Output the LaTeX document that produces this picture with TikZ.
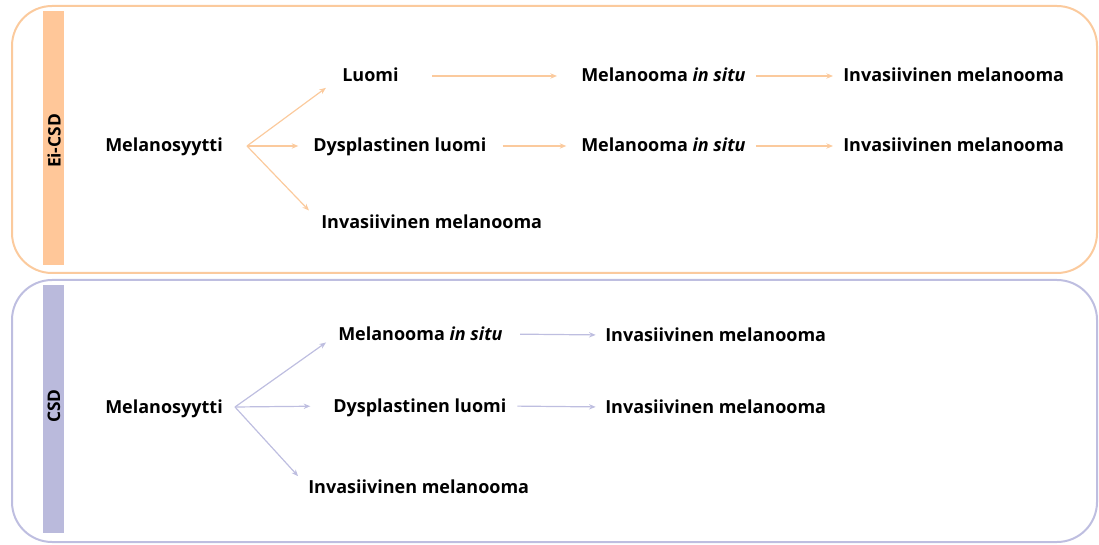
\documentclass[tikz,border=0pt]{standalone}
\usepackage{fontspec}
\setmainfont{Open Sans}
\usetikzlibrary{arrows.meta}
\definecolor{peach}{HTML}{FBCA9D}
\definecolor{peachbar}{HTML}{FFC799}
\definecolor{lilac}{HTML}{BEBEE0}
\definecolor{lilacbar}{HTML}{BABADC}

\begin{document}
\begin{tikzpicture}[x=0.75pt,y=-0.75pt,
  font=\fontsize{13.5}{16}\selectfont\bfseries,
  txt/.style={inner sep=0pt,anchor=west,text height=0.9em,text depth=0pt},
  arr/.style={-{Stealth[length=5pt,width=4pt]},line width=0.9pt}]
\useasboundingbox (0,0) rectangle (1099,545);

% frames and side bars
\draw[peach,line width=1.5pt,rounded corners=30pt] (12,6) rectangle (1097,273);
\draw[lilac,line width=1.5pt,rounded corners=30pt] (12,280) rectangle (1097,542);
\fill[peachbar] (43,11) rectangle (64,265);
\fill[lilacbar] (43,285) rectangle (64,533);
\node[rotate=90,font=\fontsize{13}{15}\selectfont\bfseries] (eicsd) at (54,141) {Ei-CSD};
\node[rotate=90,font=\fontsize{13}{15}\selectfont\bfseries] (csd) at (54,406) {CSD};

% Ei-CSD
\node[txt] (mel1) at (105,146) {Melanosyytti};
\coordinate (fork1) at (247,146);
\node[txt] (luomi1) at (342,76) {Luomi};
\node[txt] (dys1) at (313,146) {Dysplastinen luomi};
\node[txt] (inv1) at (321,223) {Invasiivinen melanooma};
\node[txt] (mis1) at (581,76) {Melanooma \textit{in situ}};
\node[txt] (mis2) at (581,146) {Melanooma \textit{in situ}};
\node[txt] (inv1a) at (843,76) {Invasiivinen melanooma};
\node[txt] (inv1b) at (843,146) {Invasiivinen melanooma};

\draw[peach,arr,shorten >=15pt] (fork1) -- (luomi1.west);
\draw[peach,arr,shorten >=11pt] (fork1) -- (dys1.west);
\draw[peach,arr,shorten >=13pt] (fork1) -- (inv1.west);
\draw[peach,arr,shorten <=25pt,shorten >=18pt] (luomi1.east) -- (mis1.west);
\draw[peach,arr,shorten <=12pt,shorten >=11pt] (dys1.east) -- (mis2.west);
\foreach \a/\b in {mis1/inv1a,mis2/inv1b}
  \draw[peach,arr,shorten <=7.5pt,shorten >=7.5pt] (\a.east) -- (\b.west);

% CSD
\node[txt] (mel2) at (105,407) {Melanosyytti};
\coordinate (fork2) at (235,407);
\node[txt] (mis3) at (338,334) {Melanooma \textit{in situ}};
\node[txt] (dys3) at (333,406) {Dysplastinen luomi};
\node[txt] (inv3) at (308,487) {Invasiivinen melanooma};
\node[txt] (inv4) at (605,335) {Invasiivinen melanooma};
\node[txt] (inv5) at (605,407) {Invasiivinen melanooma};

\draw[lilac,arr,shorten >=11pt] (fork2) -- (mis3.west);
\draw[lilac,arr,shorten >=17pt] (fork2) -- (dys3.west);
\draw[lilac,arr,shorten >=11pt] (fork2) -- (inv3.west);
\draw[lilac,arr,shorten <=13pt,shorten >=7pt] (mis3.east) -- (inv4.west);
\draw[lilac,arr,shorten <=8pt,shorten >=7pt] (dys3.east) -- (inv5.west);
\end{tikzpicture}
\end{document}
